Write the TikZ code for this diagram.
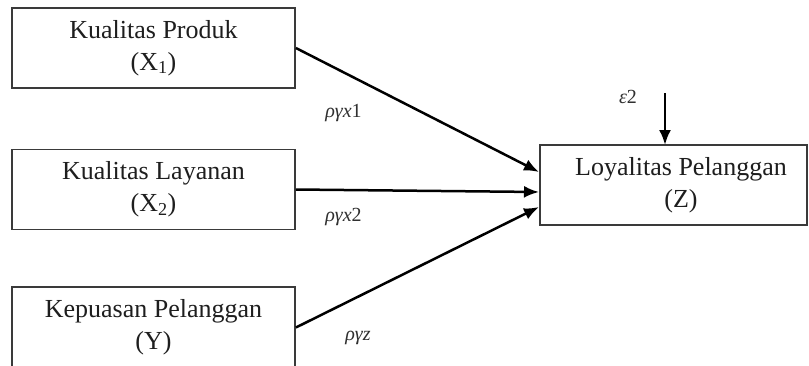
\documentclass[tikz,border=0pt]{standalone}
\usepackage{fontspec}
\setmainfont{Liberation Serif}
\usetikzlibrary{arrows.meta}
\definecolor{boxline}{HTML}{3A3A3A}
\definecolor{txt}{HTML}{1E1E1E}
\definecolor{lbl}{HTML}{303030}
\tikzset{
  varbox/.style={draw=boxline, line width=1.8pt, fill=white, minimum width=283pt,
    minimum height=80pt, align=center, inner sep=0pt, text=txt,
    font=\fontsize{26}{32}\selectfont},
  pathline/.style={line width=2.5pt, draw=black, -{Latex[length=15pt,width=12pt]}},
  pathlabel/.style={text=lbl, inner sep=1pt, font=\fontsize{20}{24}\selectfont}
}
\begin{document}
\begin{tikzpicture}[x=1pt,y=-1pt]
\useasboundingbox (0,0) rectangle (809,365);
\clip (0,0) rectangle (809,365);
\fill[white] (0,0) rectangle (809,365);
% boxes
\node[varbox] (X1) at (153.5,48) {Kualitas Produk\\(X\textsubscript{1})};
\node[varbox] (X2) at (153.5,189.5) {Kualitas Layanan\\(X\textsubscript{2})};
\node[varbox, minimum height=81pt] (Y) at (153.5,327.5) {Kepuasan Pelanggan\\(Y)};
\node[varbox, minimum width=267pt] (Z) at (673.5,185) {};
\node[text=txt, align=center, inner sep=0pt, font=\fontsize{26}{32}\selectfont] (Zt) at (681,185) {Loyalitas Pelanggan\\(Z)};
% arrow end points on Z
\coordinate (z1) at (539,172);
\coordinate (z2) at (539,192);
\coordinate (z3) at (539,207);
\coordinate (e) at (665,93);
\coordinate (zt) at (665,145);
% arrows
\draw[pathline] (X1.east) -- (z1);
\draw[pathline] (X2.east) -- (z2);
\draw[pathline] (Y.east) -- (z3);
\draw[pathline] (e) -- (zt);
% labels
\node[pathlabel] (l1) at (343.5,113) {\textit{ργx}1};
\node[pathlabel] (l2) at (343.5,217) {\textit{ργx}2};
\node[pathlabel] (l3) at (358,338) {\textit{ργz}};
\node[pathlabel] (l4) at (628,97) {\textit{ε}2};
\end{tikzpicture}
\end{document}
